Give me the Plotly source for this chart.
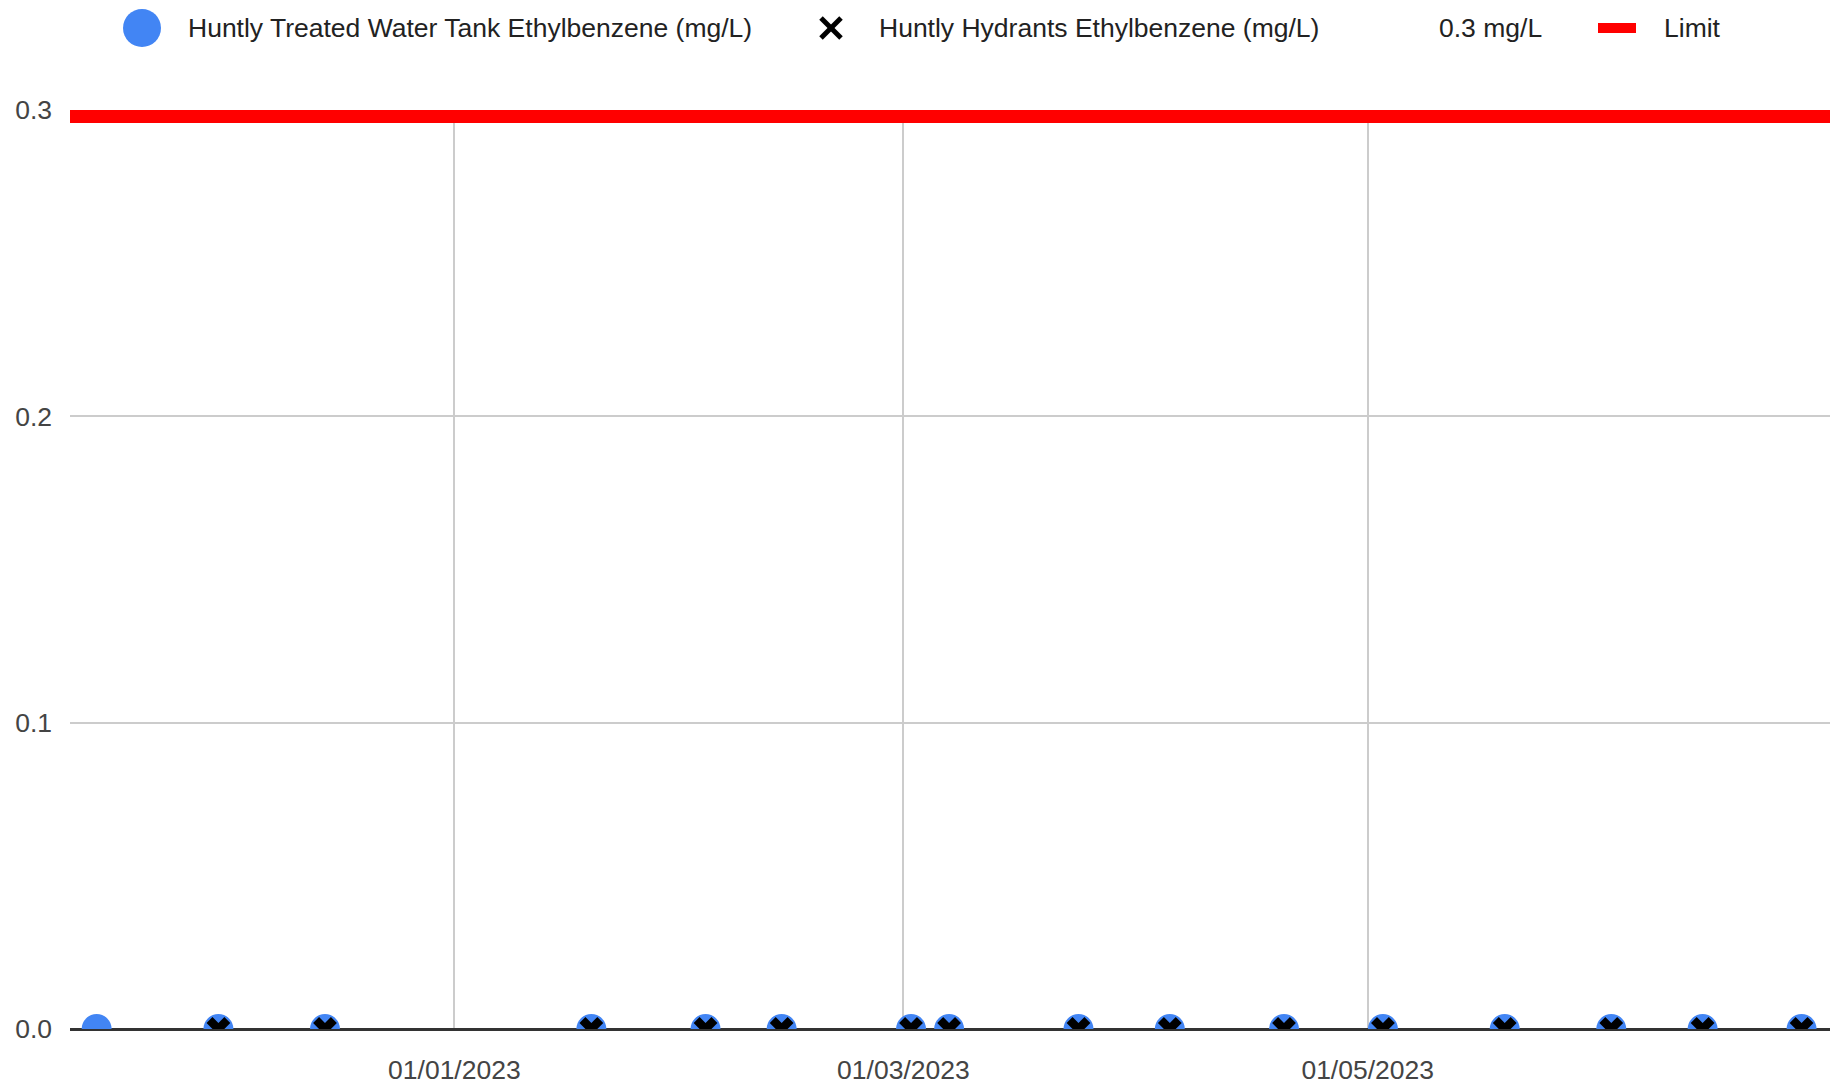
import plotly.graph_objects as go

# ---- data ----
tank_dates = ["2022-11-15", "2022-12-01", "2022-12-15", "2023-01-19", "2023-02-03",
              "2023-02-13", "2023-03-02", "2023-03-07", "2023-03-24", "2023-04-05",
              "2023-04-20", "2023-05-03", "2023-05-19", "2023-06-02", "2023-06-14",
              "2023-06-27"]
tank_values = [0.0] * 16
hydrant_dates = tank_dates[1:]
hydrant_values = [0.0] * 15
limit_dates = ["2022-11-11 12:00", "2023-07-01"]
limit_values = [0.3, 0.3]
x_tickvals = ["2023-01-01", "2023-03-01", "2023-05-01"]
x_ticktext = ["01/01/2023", "01/03/2023", "01/05/2023"]
y_tickvals = [0.0, 0.1, 0.2, 0.3]
y_ticktext = ["0.0", "0.1", "0.2", "0.3"]
legend_labels = ["Huntly Treated Water Tank Ethylbenzene (mg/L)",
                 "Huntly Hydrants Ethylbenzene (mg/L)", "0.3 mg/L", "Limit"]

OFF = 8  # page body margin
W, H = 1838, 1086
ML, MR, MT, MB = 70 - OFF, 6 + OFF, 110 - OFF, 57 + OFF
PW, PH = W - ML - MR, H - MT - MB
FONT = "Liberation Sans, Arial, sans-serif"
FS = 26.5
BLUE = "#4285F4"

def px(x):  # screen x -> paper
    return (x - OFF - ML) / PW

def py(y):  # screen y -> paper
    return (H - MB - (y - OFF)) / PH

fig = go.Figure()
fig.add_trace(go.Scatter(x=limit_dates, y=limit_values, mode="lines",
                         line=dict(color="#FF0000", width=26), name=legend_labels[3],
                         showlegend=False, hoverinfo="skip"))
fig.add_trace(go.Scatter(x=tank_dates, y=tank_values, mode="markers",
                         marker=dict(symbol="circle", size=30, color=BLUE),
                         name=legend_labels[0], showlegend=False, cliponaxis=True))
fig.add_trace(go.Scatter(x=hydrant_dates, y=hydrant_values, mode="markers",
                         marker=dict(symbol="x", size=21, color="#000000",
                                     line=dict(width=0)),
                         name=legend_labels[1], showlegend=False, cliponaxis=True))

# ---- manual legend (to match the large symbols) ----
ly = py(28)
shapes = [
    dict(type="circle", xref="paper", yref="paper", xsizemode="pixel", ysizemode="pixel",
         xanchor=px(142), yanchor=ly, x0=-19, x1=19, y0=-19, y1=19,
         fillcolor=BLUE, line=dict(width=0)),
    dict(type="line", xref="paper", yref="paper", xsizemode="pixel", ysizemode="pixel",
         xanchor=px(831), yanchor=ly, x0=-10, x1=10, y0=-10, y1=10,
         line=dict(color="#000", width=5)),
    dict(type="line", xref="paper", yref="paper", xsizemode="pixel", ysizemode="pixel",
         xanchor=px(831), yanchor=ly, x0=-10, x1=10, y0=10, y1=-10,
         line=dict(color="#000", width=5)),
    dict(type="rect", xref="paper", yref="paper", xsizemode="pixel", ysizemode="pixel",
         xanchor=px(1617), yanchor=ly, x0=-19, x1=19, y0=-5, y1=5,
         fillcolor="#FF0000", line=dict(width=0)),
]
ann = []
for label, x0 in zip(legend_labels, [186, 877, 1437, 1662]):
    ann.append(dict(text=label, xref="paper", yref="paper", x=px(x0), y=ly,
                    xanchor="left", yanchor="middle", showarrow=False,
                    font=dict(family=FONT, size=FS, color="#222222")))

fig.update_layout(
    width=W, height=H,
    margin=dict(l=ML, r=MR, t=MT, b=MB, pad=0, autoexpand=False),
    paper_bgcolor="white", plot_bgcolor="white",
    showlegend=False,
    shapes=shapes, annotations=ann,
    font=dict(family=FONT, size=FS, color="#444444"),
)
fig.update_xaxes(type="date", range=[limit_dates[0], limit_dates[1]],
                 tickvals=x_tickvals, ticktext=x_ticktext, automargin=False,
                 showgrid=True, gridcolor="#CCCCCC", gridwidth=2,
                 showline=False, zeroline=False, ticks="", ticklabelstandoff=22,
                 tickfont=dict(family=FONT, size=FS, color="#444444"))
fig.update_yaxes(range=[0, 0.3], tickvals=y_tickvals, ticktext=y_ticktext,
                 automargin=False,
                 showgrid=True, gridcolor="#CCCCCC", gridwidth=2,
                 zeroline=True, zerolinecolor="#333333", zerolinewidth=3,
                 showline=False, ticks="", ticklabelstandoff=17,
                 tickfont=dict(family=FONT, size=FS, color="#444444"))

fig.write_html("out.html")
